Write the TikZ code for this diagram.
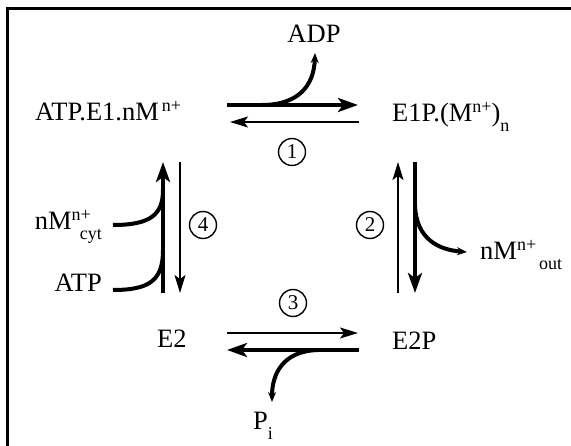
\documentclass[tikz,border=0pt]{standalone}
\usepackage{fontspec}
\setmainfont{Liberation Serif}
\usetikzlibrary{arrows.meta}
\newcommand{\sps}[1]{\raisebox{9pt}{\fontsize{18}{18}\selectfont #1}}
\newcommand{\sbs}[1]{\raisebox{-10pt}{\fontsize{18}{18}\selectfont #1}}
\tikzset{
  species/.style={
    font=\fontsize{26.5}{30}\selectfont,
    inner sep=0pt
  },
  stepnum/.style={
    circle,
    draw=black,
    line width=1.4pt,
    minimum size=27pt,
    inner sep=0pt,
    font=\fontsize{21}{21}\selectfont
  },
  mainflow/.style={
    draw=black,
    line width=4.5pt,
    -{Stealth[length=20pt,width=14pt,inset=5pt]}
  },
  backflow/.style={
    draw=black,
    line width=1.5pt,
    -{Stealth[length=18pt,width=11pt,inset=4pt]}
  },
  sideflow/.style={
    draw=black,
    line width=4pt,
    -{Stealth[length=10pt,width=8pt]}
  },
  sidein/.style={
    draw=black,
    line width=4pt
  },
  frameline/.style={
    draw=black,
    line width=3pt
  }
}

\begin{document}
\begin{tikzpicture}[x=1pt,y=-1pt]
  \useasboundingbox (0,0) rectangle (571,446);

  % Open frame: only the left and top edges are visible.
  \draw[frameline] (7.5,446) -- (7.5,8.5) -- (571,8.5);

  % Enzyme states at the four corners of the cycle.
  \node[species,anchor=base west] (atpe) at (35,121) {ATP.E1.nM\hspace{3pt}\sps{n+}};
  \node[species,anchor=base west] (eonp) at (392,122) {E1P.(M\sps{n+})\sbs{n}};
  \node[species,anchor=base west] (etwop) at (392,350) {E2P};
  \node[species,anchor=base west] (etwo) at (157,348) {E2};

  % Substrates and products entering or leaving.
  \node[species,anchor=base] (adp) at (314,43) {ADP};
  \node[species,anchor=base west] (mout) at (480,260) {nM\sps{n+}\hspace{3pt}\sbs{out}};
  \node[species,anchor=base west] (pi) at (253,430) {P\sbs{i}};
  \node[species,anchor=base east] (mcyt) at (102,230) {nM\sps{n+}\hspace{-11pt}\sbs{cyt}};
  \node[species,anchor=base east] (atp) at (102,292) {ATP};

  % Reaction step numbers.
  \node[stepnum] (one) at (292,152) {1};
  \node[stepnum] (two) at (370,225) {2};
  \node[stepnum] (three) at (293,303) {3};
  \node[stepnum] (four) at (203,225) {4};

  % End points of the paired arrows.
  \coordinate (oneL) at (227,105);  \coordinate (oneR) at (358,105);
  \coordinate (oneBL) at (230,122); \coordinate (oneBR) at (359,122);
  \coordinate (twoT) at (415,162);  \coordinate (twoB) at (415,293);
  \coordinate (twoBT) at (398,162); \coordinate (twoBB) at (398,293);
  \coordinate (threeL) at (227,333); \coordinate (threeR) at (358,333);
  \coordinate (threeBL) at (227,350); \coordinate (threeBR) at (359,350);
  \coordinate (fourB) at (163,293); \coordinate (fourT) at (163,162);
  \coordinate (fourBT) at (180,162); \coordinate (fourBB) at (180,293);

  % Step 1
  \draw[mainflow] (oneL) -- (oneR);
  \draw[backflow] (oneBR) -- (oneBL);
  \draw[sideflow] (262,105) .. controls (298,105) and (314,86) .. (315,53);

  % Step 2
  \draw[mainflow] (twoT) -- (twoB);
  \draw[backflow] (twoBB) -- (twoBT);
  \draw[sideflow] (415,205) .. controls (416,240) and (440,250) .. (467,252);

  % Step 3
  \draw[backflow] (threeL) -- (threeR);
  \draw[mainflow] (threeBR) -- (threeBL);
  \draw[sideflow] (318,350) .. controls (282,351) and (272,375) .. (272,402);

  % Step 4
  \draw[mainflow] (fourB) -- (fourT);
  \draw[backflow] (fourBT) -- (fourBB);
  \draw[sidein] (113,225) .. controls (150,225) and (163,215) .. (163,190);
  \draw[sidein] (113,290) .. controls (150,290) and (163,280) .. (163,250);

\end{tikzpicture}
\end{document}
